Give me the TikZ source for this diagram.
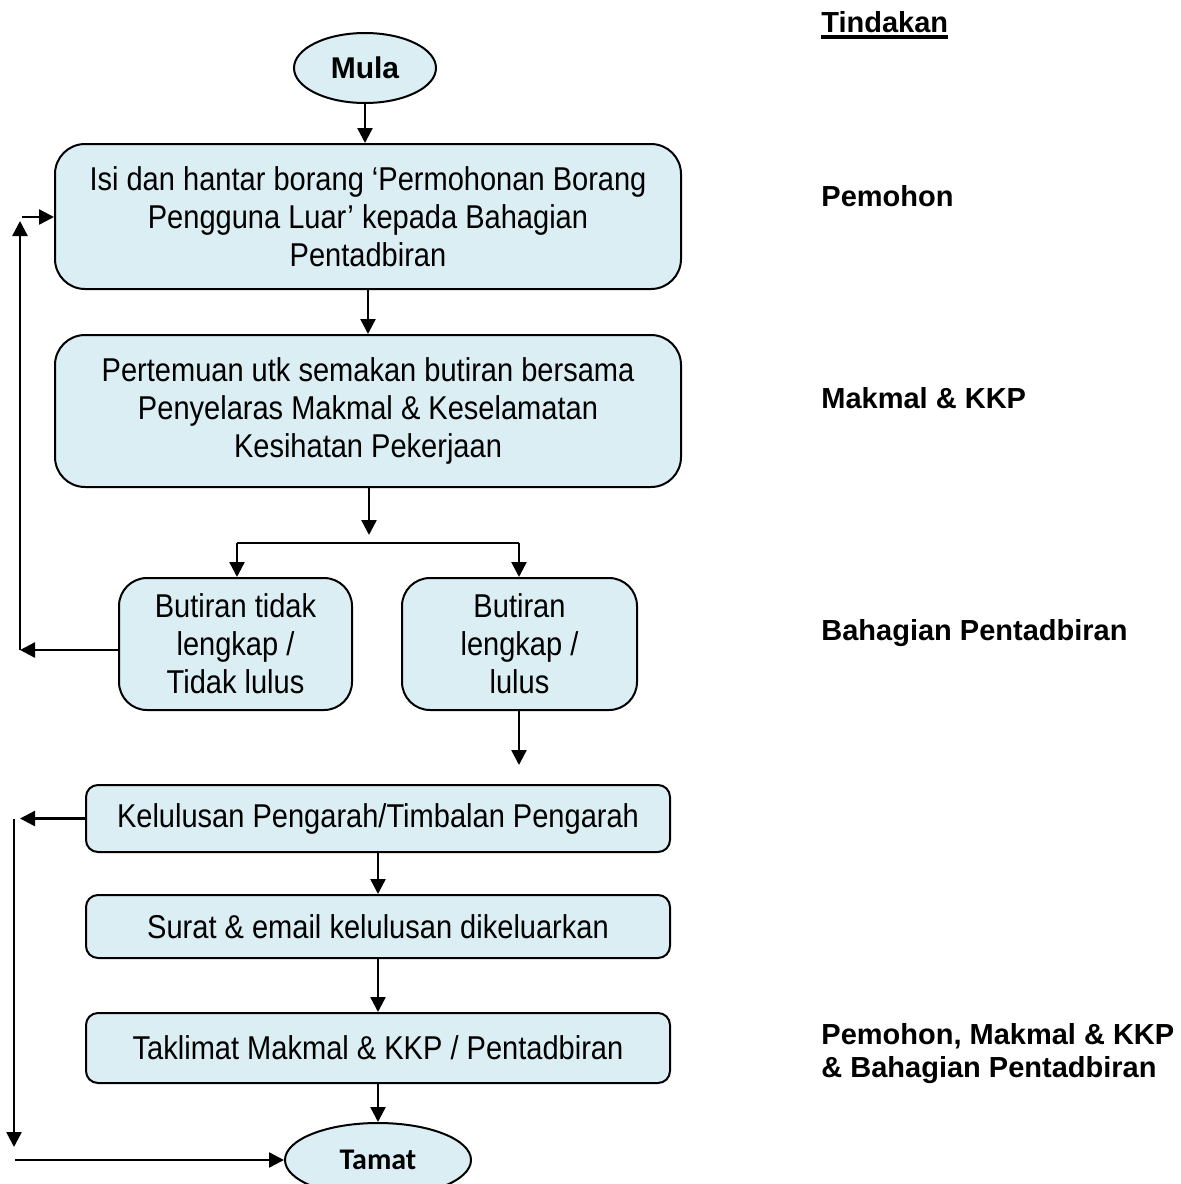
\documentclass[tikz,border=0pt]{standalone}
\usepackage{fontspec}
\setmainfont{Liberation Sans}
\newfontfamily\tinggi[FakeStretch = 0.88]{Liberation Sans} % узкий, как в оригинале
\newfontfamily\tamatfont{Carlito}
\usetikzlibrary{shapes.geometric, arrows.meta, positioning}

\definecolor{isian}{HTML}{DAEEF3} % светло-голубая заливка

\newcommand\garis[1]{\setbox0\hbox{#1}\rlap{\rule[-3pt]{\wd0}{1.6pt}}\box0} % жирное подчёркивание

\tikzset{
    kotak/.style = {draw, line width = 1pt, fill = isian, align = center, inner sep = 0pt,
                    font = \tinggi\fontsize{16.5}{19}\selectfont},
    bulat/.style = {draw, line width = 1pt, fill = isian, ellipse, inner sep = 0pt},
    panah/.style = {line width = 1.2pt, -{Triangle[length = 7.5pt, width = 7.5pt]}},
    garisan/.style = {line width = 1.2pt},
    tindakan/.style = {anchor = west, align = left, inner sep = 0pt,
                       font = \fontsize{14.5}{16.5}\selectfont\bfseries}
}

\begin{document}
    \begin{tikzpicture}[x = 0.5pt, y = -0.5pt]
        \useasboundingbox (0, 0) rectangle (1181, 1184); % размер как у оригинала

        % Начало и конец
        \node [bulat, minimum width = 71pt, minimum height = 35pt,
               font = \fontsize{15}{18}\selectfont\bfseries] (mula) at (365, 68) {Mula};
        \node [bulat, minimum width = 93pt, minimum height = 37pt,
               font = \tamatfont\fontsize{15}{18}\selectfont\bfseries] (tamat) at (378, 1160) {Tamat};

        % Блоки
        \node [kotak, rounded corners = 15pt, minimum width = 313pt, minimum height = 72.5pt]
            (isi) at (368, 216.5) {Isi dan hantar borang ‘Permohonan Borang\\Pengguna Luar’ kepada Bahagian\\Pentadbiran};
        \node [kotak, rounded corners = 15pt, minimum width = 313pt, minimum height = 76pt]
            (temu) at (368, 411) {Pertemuan utk semakan butiran bersama\\Penyelaras Makmal \& Keselamatan\\Kesihatan Pekerjaan};
        \node [kotak, rounded corners = 14pt, minimum width = 116.5pt, minimum height = 66pt]
            (tidak) at (235.5, 644) {Butiran tidak\\lengkap /\\Tidak lulus};
        \node [kotak, rounded corners = 14pt, minimum width = 117.5pt, minimum height = 66pt]
            (lengkap) at (519.5, 644) {Butiran\\lengkap /\\lulus};
        \node [kotak, rounded corners = 6pt, minimum width = 292pt, minimum height = 33.5pt]
            (lulus) at (378, 818.5) {Kelulusan Pengarah/Timbalan Pengarah};
        \node [kotak, rounded corners = 6pt, minimum width = 292pt, minimum height = 31.5pt]
            (surat) at (378, 926.5) {Surat \& email kelulusan dikeluarkan};
        \node [kotak, rounded corners = 6pt, minimum width = 292pt, minimum height = 35pt]
            (taklimat) at (378, 1048) {Taklimat Makmal \& KKP / Pentadbiran};

        % Колонка справа
        \node [tindakan] (tajuk) at (821, 25) {\garis{Tindakan}};
        \node [tindakan] (t1) at (821, 196) {Pemohon};
        \node [tindakan] (t2) at (821, 398) {Makmal \& KKP};
        \node [tindakan] (t3) at (821, 633) {Bahagian Pentadbiran};
        \node [tindakan] (t4) at (821, 1054) {Pemohon, Makmal \& KKP\\\& Bahagian Pentadbiran};

        % Точки для стрелок
        \coordinate (pecah) at (369, 535);
        \coordinate (kiri) at (237, 543);
        \coordinate (kanan) at (519, 543);
        \coordinate (turun) at (519, 765);
        \coordinate (naikA) at (20, 221);
        \coordinate (masukA) at (22, 217);
        \coordinate (keluarB) at (20, 819);
        \coordinate (atasB) at (14, 819);
        \coordinate (bawahB) at (14, 1147);
        \coordinate (mulaB) at (15, 1160);

        % Стрелки
        \draw [panah] (mula.south) -- (mula.south |- isi.north);
        \draw [panah] (isi) -- (temu);
        \draw [panah] (temu.south -| pecah) -- (pecah);
        \draw [garisan] (kiri) -- (kanan);
        \draw [panah] (kiri) -- (kiri |- tidak.north);
        \draw [panah] (kanan) -- (kanan |- lengkap.north);
        \draw [panah] ([yshift = -3pt]tidak.west) -- ([yshift = -3pt]tidak.west -| naikA);
        \draw [panah] ([yshift = -3pt]tidak.west -| naikA) -- (naikA); % возврат наверх
        \draw [panah] (masukA) -- (masukA -| isi.west);
        \draw [panah] (lengkap.south -| turun) -- (turun);
        \draw [panah] (lulus.west) -- (lulus.west -| keluarB);
        \draw [panah] (atasB) -- (bawahB);
        \draw [panah] (mulaB) -- (mulaB -| tamat.west);
        \draw [panah] (lulus) -- (surat);
        \draw [panah] (surat) -- (taklimat);
        \draw [panah] (taklimat) -- (tamat);
    \end{tikzpicture}
\end{document}
